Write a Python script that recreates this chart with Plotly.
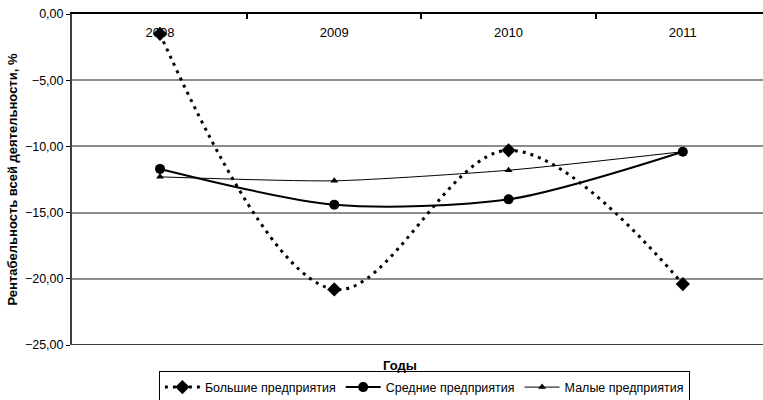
import plotly.graph_objects as go

years = ["2008", "2009", "2010", "2011"]
large = [-1.5, -20.8, -10.3, -20.4]
medium = [-11.7, -14.4, -14.0, -10.4]
small = [-12.3, -12.6, -11.8, -10.4]
y_ticks = [0, -5, -10, -15, -20, -25]

FONT = "Liberation Sans, Arial, sans-serif"

fig = go.Figure()
fig.add_trace(go.Scatter(
    x=years, y=large, name="Большие предприятия", mode="lines+markers",
    line=dict(color="black", width=3, dash="3px,5px", shape="spline", smoothing=1.0),
    marker=dict(symbol="diamond", size=11, color="black")))
fig.add_trace(go.Scatter(
    x=years, y=medium, name="Средние предприятия", mode="lines+markers",
    line=dict(color="black", width=2, shape="spline", smoothing=0.8),
    marker=dict(symbol="circle", size=10, color="black")))
fig.add_trace(go.Scatter(
    x=years, y=small, name="Малые предприятия", mode="lines+markers",
    line=dict(color="black", width=1, shape="spline", smoothing=0.6),
    marker=dict(symbol="triangle-up", size=7, color="black")))

fig.update_layout(
    width=763, height=400,
    margin=dict(l=72, r=0, t=14, b=55, autoexpand=False),
    paper_bgcolor="white", plot_bgcolor="white",
    font=dict(family=FONT, size=12.5, color="black"),
    separators=", ",
    showlegend=True,
    legend=dict(orientation="h", x=0.51, xanchor="center", y=-0.08, yanchor="top",
                bordercolor="black", borderwidth=1, font=dict(size=12.5),
                itemwidth=35, tracegroupgap=0),
    xaxis=dict(type="category", side="top", range=[-0.505, 3.46],
               showline=True, linecolor="black", linewidth=2,
               ticks="inside", tickson="boundaries", ticklen=5, tickwidth=2,
               tickcolor="black", ticklabelstandoff=-30,
               showgrid=False, zeroline=False,
               automargin=False, tickfont=dict(size=13)),
    yaxis=dict(range=[-25, 0], tickvals=y_ticks, tickformat=".2f",
               showline=True, linecolor="#404040", linewidth=2,
               ticks="outside", ticklen=4, tickcolor="black",
               showgrid=True, gridcolor="#8c8c8c", gridwidth=1.5,
               zeroline=True, zerolinecolor="black", zerolinewidth=2,
               automargin=False, tickfont=dict(size=12.5),
               title=dict(text="<b>Рентабельность всей деятельности, %</b>",
                          font=dict(size=13), standoff=4)),
)
fig.add_shape(type="line", xref="paper", yref="y", x0=0, x1=1, y0=-25, y1=-25,
              line=dict(color="#404040", width=2))
fig.add_annotation(text="<b>Годы</b>", xref="paper", yref="paper", x=0.475, y=-0.063,
                   showarrow=False, font=dict(size=13), yanchor="middle")

fig.write_html("out.html", config={"displayModeBar": False},
               post_script="document.body.style.margin='0';document.body.style.overflow='hidden';")
